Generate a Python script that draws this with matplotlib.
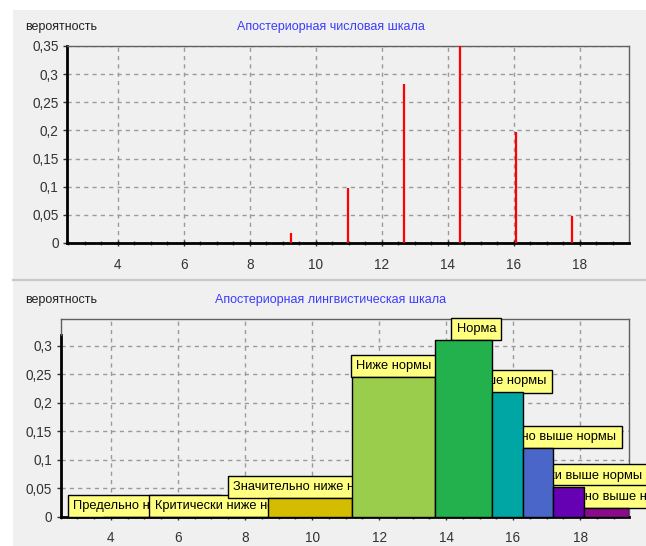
import matplotlib
matplotlib.use("Agg")
import matplotlib.pyplot as plt
from matplotlib.ticker import FuncFormatter, MultipleLocator
from matplotlib.patches import Rectangle
from matplotlib.lines import Line2D

plt.rcParams['font.family'] = ['Liberation Sans', 'DejaVu Sans']

# Posterior numeric scale: point probabilities
num_x = [9.25, 10.97, 12.67, 14.37, 16.05, 17.77]
num_p = [0.018, 0.098, 0.282, 0.355, 0.197, 0.048]

# Posterior linguistic scale: terms, interval edges and probabilities
terms = ["Предельно ниже нормы", "Критически ниже нормы", "Значительно ниже нормы",
         "Ниже нормы", "Норма", "Выше нормы", "Значительно выше нормы",
         "Критически выше нормы", "Предельно выше нормы"]
term_edges = [3.77, 6.23, 8.69, 11.19, 13.67, 15.36, 16.30, 17.18, 18.12, 19.45]
term_p = [0.0, 0.0, 0.033, 0.245, 0.31, 0.218, 0.12, 0.053, 0.016]
term_colors = ["#B22222", "#E07000", "#D4BC00", "#9ACD4C", "#22B14C",
               "#00A6A3", "#4A66C8", "#6600B3", "#8B0A8B"]

x_ticks = [4, 6, 8, 10, 12, 14, 16, 18]

BG = "#F0F0F0"
W, H = 646, 546
fig = plt.figure(figsize=(W / 100, H / 100), dpi=100, facecolor=BG)

# white margins on the top and left edges
fig.patches.append(Rectangle((0, 1 - 10 / H), 1, 10 / H, transform=fig.transFigure,
                             facecolor="white", edgecolor="none", zorder=0))
fig.patches.append(Rectangle((0, 0), 13 / W, 1, transform=fig.transFigure,
                             facecolor="white", edgecolor="none", zorder=0))
# separator between the two panels
fig.add_artist(Line2D([13 / W, 1], [1 - 280 / H, 1 - 280 / H], transform=fig.transFigure,
                      color="#C8C8C8", lw=1.6))


def comma(v, pos):
    s = f"{v:.2f}".rstrip("0").rstrip(".")
    return s.replace(".", ",")


def style_axes(ax, xlim, ylim, ystep):
    ax.set_facecolor(BG)
    ax.set_xlim(*xlim)
    ax.set_ylim(*ylim)
    ax.set_xticks(x_ticks)
    ax.xaxis.set_minor_locator(MultipleLocator(0.5))
    ax.yaxis.set_major_locator(MultipleLocator(ystep))
    ax.yaxis.set_major_formatter(FuncFormatter(comma))
    ax.tick_params(axis="both", which="major", labelsize=9.8, colors="#333333",
                   length=3, width=1, pad=3)
    ax.tick_params(axis="x", which="major", direction="inout", length=5, pad=8)
    ax.tick_params(axis="x", which="minor", direction="inout", length=3, width=1,
                   color="#555555")
    ax.grid(True, which="major", color="#9A9A9A", linestyle=(0, (3, 3)), lw=1)
    ax.set_axisbelow(True)
    for side in ("top", "right"):
        ax.spines[side].set_color("#606060")
        ax.spines[side].set_linewidth(1)
    for side in ("left", "bottom"):
        ax.spines[side].set_color("black")
        ax.spines[side].set_linewidth(2)


# ---- numeric scale ----
ax1 = fig.add_axes([67 / W, 1 - 243 / H, (629 - 67) / W, 197 / H])
style_axes(ax1, (2.455, 19.485), (0, 0.35), 0.05)
ax1.vlines(num_x, 0, num_p, color="#FF0000", lw=1.6, zorder=3)
fig.text(25 / W, 1 - 27 / H, "вероятность", fontsize=9, va="center", ha="left",
         color="#222222")
fig.text(331 / W, 1 - 27 / H, "Апостериорная числовая шкала", fontsize=9,
         va="center", ha="center", color="#3C3CFF")

# ---- linguistic scale ----
ax2 = fig.add_axes([60.7 / W, 1 - 516.7 / H, (629 - 60.7) / W, 197.7 / H])
ylim2 = (0, 0.347)
style_axes(ax2, (2.5, 19.46), ylim2, 0.05)
ax2.set_yticks([0, 0.05, 0.1, 0.15, 0.2, 0.25, 0.3])
thick_top = 0.319
ax2.spines["left"].set_bounds(0, thick_top)
ax2.plot([2.5, 2.5], [thick_top, ylim2[1]], color="#606060", lw=1, clip_on=False,
         zorder=6)

lefts = term_edges[:-1]
widths = [b - a for a, b in zip(term_edges[:-1], term_edges[1:])]
ax2.bar(lefts, term_p, width=widths, align="edge", color=term_colors,
        edgecolor="black", linewidth=1, zorder=5)

for i, (term, a, w, p) in enumerate(zip(terms, lefts, widths, term_p)):
    cx = a + w / 2
    if term == "Норма":
        cx += 0.39
    ax2.annotate(term, (cx, p), xytext=(0, 5), textcoords="offset pixels",
                 ha="center", va="bottom", fontsize=9.3, color="black",
                 bbox=dict(boxstyle="square,pad=0.4", facecolor="#FFFF80",
                           edgecolor="black", lw=1),
                 zorder=3 + i * 0.01, annotation_clip=False)

fig.text(25 / W, 1 - 300 / H, "вероятность", fontsize=9, va="center", ha="left",
         color="#222222")
fig.text(331 / W, 1 - 300 / H, "Апостериорная лингвистическая шкала", fontsize=9,
         va="center", ha="center", color="#3C3CFF")

fig.savefig("out.png", dpi=100, facecolor=BG)
